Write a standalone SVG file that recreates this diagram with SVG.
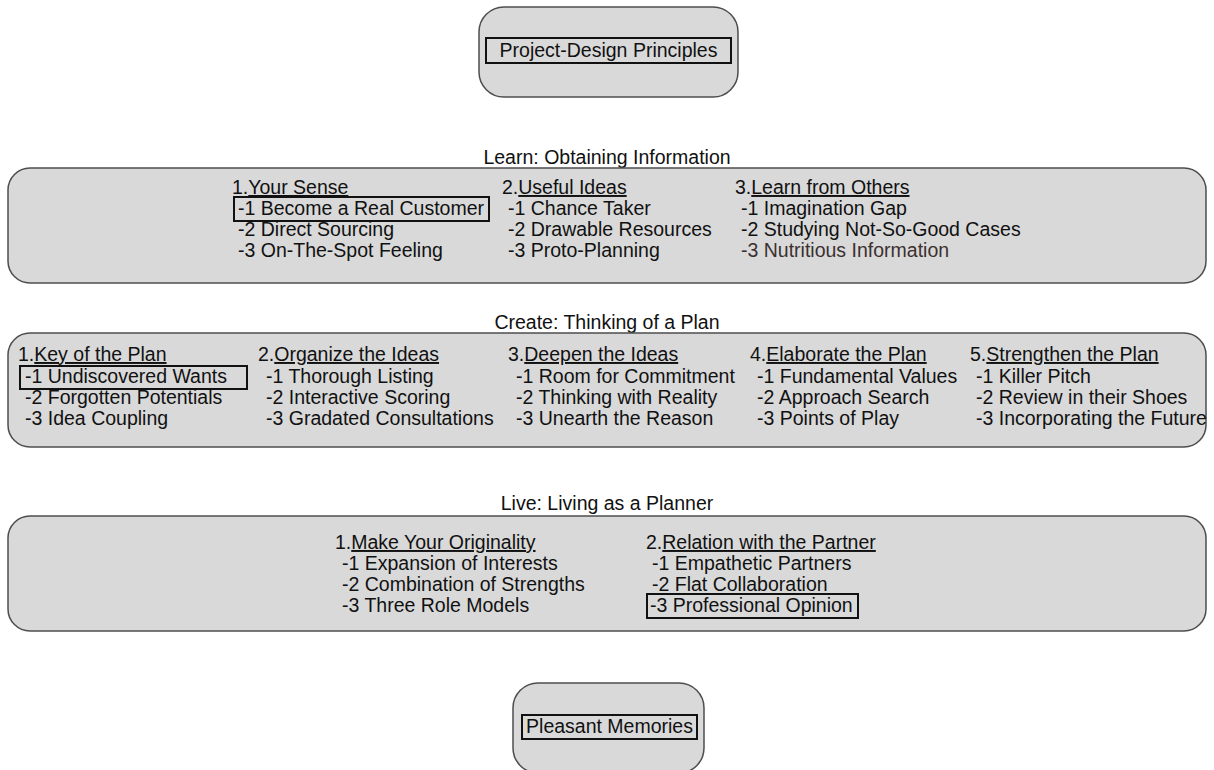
<svg xmlns="http://www.w3.org/2000/svg" width="1214" height="770" viewBox="0 0 1214 770">
<style>
text{font-family:"Liberation Sans",Arial,sans-serif;font-size:19.5px;fill:#111;}
.box{fill:#d9d9d9;stroke:#4d4d4d;stroke-width:1.5;}
.frame{fill:none;stroke:#111;stroke-width:2;}
.u{text-decoration:underline;}
.mid{text-anchor:middle;}
.dim{fill:#3b3030;}
</style>
<rect width="1214" height="770" fill="#ffffff"/>
<g id="connectors"></g>

<g id="node-top">
<rect class="box" x="479" y="7" width="259" height="90" rx="25"/>
<rect class="frame" x="486" y="38" width="245" height="25"/>
<text class="mid" x="608.5" y="57">Project-Design Principles</text>
</g>

<g id="node-learn">
<text class="mid" x="607" y="164">Learn: Obtaining Information</text>
<rect class="box" x="8" y="168" width="1198" height="115" rx="22"/>
<rect class="frame" x="234" y="197" width="255" height="24"/>
<text x="232" y="194">1.<tspan class="u">Your Sense</tspan></text>
<text x="238" y="215">-1 Become a Real Customer</text>
<text x="238" y="236">-2 Direct Sourcing</text>
<text x="238" y="257">-3 On-The-Spot Feeling</text>
<text x="502" y="194">2.<tspan class="u">Useful Ideas</tspan></text>
<text x="508" y="215">-1 Chance Taker</text>
<text x="508" y="236">-2 Drawable Resources</text>
<text x="508" y="257">-3 Proto-Planning</text>
<text x="735" y="194">3.<tspan class="u">Learn from Others</tspan></text>
<text x="741" y="215">-1 Imagination Gap</text>
<text x="741" y="236">-2 Studying Not-So-Good Cases</text>
<text class="dim" x="741" y="257">-3 Nutritious Information</text>
</g>

<g id="node-create">
<text class="mid" x="607" y="329">Create: Thinking of a Plan</text>
<rect class="box" x="8" y="333" width="1198" height="114" rx="22"/>
<rect class="frame" x="20" y="366" width="227" height="23"/>
<text x="18" y="361">1.<tspan class="u">Key of the Plan</tspan></text>
<text x="25" y="383">-1 Undiscovered Wants</text>
<text x="25" y="404">-2 Forgotten Potentials</text>
<text x="25" y="425">-3 Idea Coupling</text>
<text x="258" y="361">2.<tspan class="u">Organize the Ideas</tspan></text>
<text x="266" y="383">-1 Thorough Listing</text>
<text x="266" y="404">-2 Interactive Scoring</text>
<text x="266" y="425">-3 Gradated Consultations</text>
<text x="508" y="361">3.<tspan class="u">Deepen the Ideas</tspan></text>
<text x="516" y="383">-1 Room for Commitment</text>
<text x="516" y="404">-2 Thinking with Reality</text>
<text x="516" y="425">-3 Unearth the Reason</text>
<text x="750" y="361">4.<tspan class="u">Elaborate the Plan</tspan></text>
<text x="757" y="383">-1 Fundamental Values</text>
<text x="757" y="404">-2 Approach Search</text>
<text x="757" y="425">-3 Points of Play</text>
<text x="970" y="361">5.<tspan class="u">Strengthen the Plan</tspan></text>
<text x="976" y="383">-1 Killer Pitch</text>
<text x="976" y="404">-2 Review in their Shoes</text>
<text x="976" y="425">-3 Incorporating the Future</text>
</g>

<g id="node-live">
<text class="mid" x="607" y="510">Live: Living as a Planner</text>
<rect class="box" x="8" y="516" width="1198" height="115" rx="22"/>
<text x="335" y="549">1.<tspan class="u">Make Your Originality</tspan></text>
<text x="342" y="570">-1 Expansion of Interests</text>
<text x="342" y="591">-2 Combination of Strengths</text>
<text x="342" y="612">-3 Three Role Models</text>
<text x="646" y="549">2.<tspan class="u">Relation with the Partner</tspan></text>
<text x="652" y="570">-1 Empathetic Partners</text>
<text x="652" y="591">-2 Flat Collaboration</text>
<rect class="frame" x="647" y="594" width="211" height="24"/>
<text x="650" y="612">-3 Professional Opinion</text>
</g>

<g id="node-bottom">
<rect class="box" x="513" y="683" width="191" height="90" rx="25"/>
<rect class="frame" x="522" y="715" width="175" height="24"/>
<text class="mid" x="609.5" y="733">Pleasant Memories</text>
</g>
</svg>
